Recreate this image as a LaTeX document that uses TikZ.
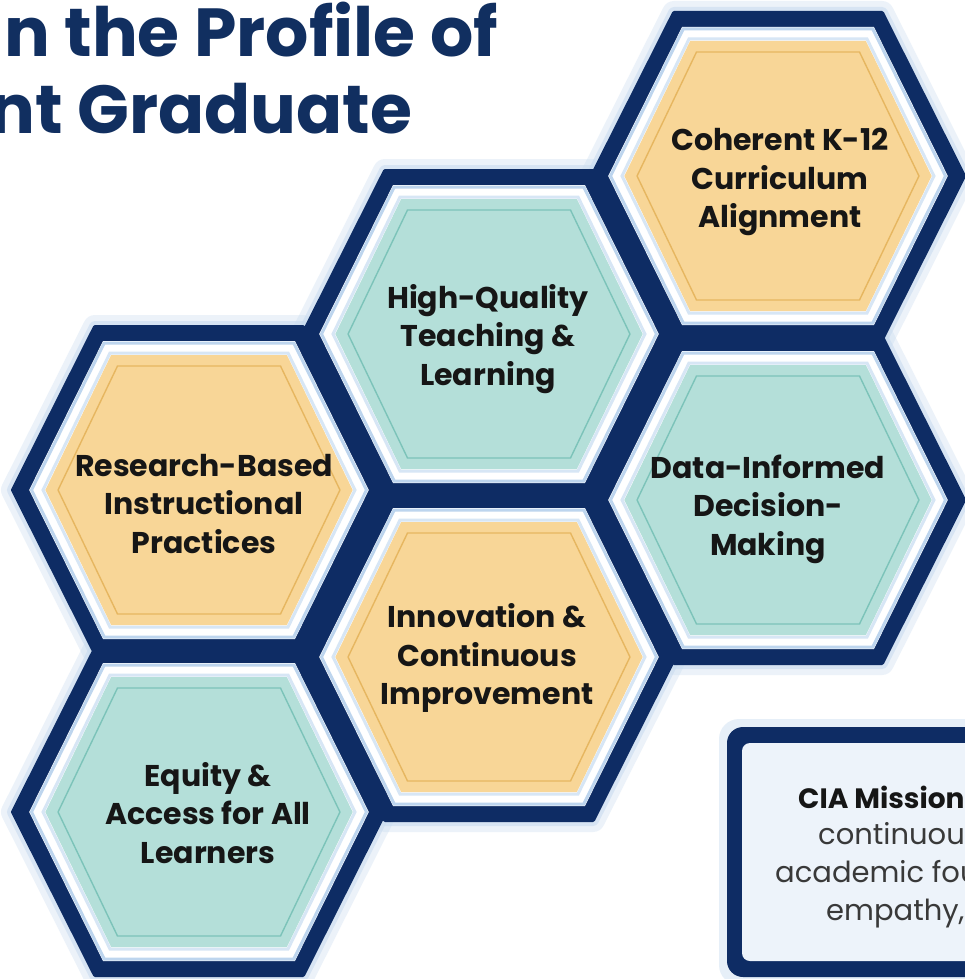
\documentclass[tikz,border=0pt]{standalone}
\usepackage{fontspec}
\setmainfont{Poppins}
\usetikzlibrary{positioning}

\definecolor{navy}{HTML}{0E2C64}
\definecolor{headblue}{HTML}{112F60}
\definecolor{halo}{HTML}{C9DCF0}
\definecolor{rim}{HTML}{BDD5EE}
\definecolor{peach}{HTML}{F8D697}
\definecolor{peachline}{HTML}{E6B660}
\definecolor{aqua}{HTML}{B4DFD9}
\definecolor{aqualine}{HTML}{7CC3B9}
\definecolor{ink}{HTML}{161616}
\definecolor{paper}{HTML}{EDF3FA}

% hexagon round (#1,#2), pulled in by #3
\newcommand{\hexpath}[3]{({#1+186-1.155*#3},{#2}) -- ({#1+104-0.577*#3},{#2-163+#3}) -- ({#1-104+0.577*#3},{#2-163+#3}) -- ({#1-186+1.155*#3},{#2}) -- ({#1-104+0.577*#3},{#2+163-#3}) -- ({#1+104-0.577*#3},{#2+163-#3}) -- cycle}
\newcommand{\hexglow}[2]{%
  \draw[halo, line width=24pt, opacity=.35, line join=round] \hexpath{#1}{#2}{0};
  \draw[halo, line width=12pt, opacity=.6, line join=round] \hexpath{#1}{#2}{0};}
\newcommand{\hexcell}[4]{%
  \fill[white] \hexpath{#1}{#2}{14};
  \draw[rim, line width=3pt] \hexpath{#1}{#2}{16};
  \draw[rim!60, line width=3pt] \hexpath{#1}{#2}{26};
  \fill[#3] \hexpath{#1}{#2}{28};
  \draw[#4, line width=1.4pt] \hexpath{#1}{#2}{39};}

\begin{document}
\begin{tikzpicture}[x=1pt, y=-1pt,
hexlabel/.style = {align = center, text = ink, inner sep = 0pt,
  font = \bfseries\fontsize{30}{38.5}\selectfont},
headline/.style = {text = headblue, inner sep = 0pt,
  font = \bfseries\fontsize{68}{70}\selectfont},
missline/.style = {anchor = base west, text = ink!85, inner sep = 0pt,
  font = \fontsize{29}{30}\selectfont}]

\useasboundingbox (0,0) rectangle (965,979);
\clip (0,0) rectangle (965,979);
\fill[white] (0,0) rectangle (965,979);

% heading, cut at the left edge
\node[headline, anchor = base east] (head1) at (498,57) {n the Profile of};
\node[headline, anchor = base west] (head2) at (-54,133) {ont Graduate};

% halo and dark frames
\hexglow{199}{490} \hexglow{199}{812}
\hexglow{489}{334} \hexglow{489}{657}
\hexglow{778}{176} \hexglow{778}{500}
\foreach \cx/\cy in {199/490, 199/812, 489/334, 489/657, 778/176, 778/500}
  \filldraw[navy, line width=4pt, line join=round] \hexpath{\cx}{\cy}{0};

% cells
\hexcell{199}{490}{peach}{peachline}
\hexcell{199}{812}{aqua}{aqualine}
\hexcell{489}{334}{aqua}{aqualine}
\hexcell{489}{657}{peach}{peachline}
\hexcell{778}{176}{peach}{peachline}
\hexcell{778}{500}{aqua}{aqualine}

\node[hexlabel] (coh) at (780,182) {Coherent K-12\\Curriculum\\Alignment};
\node[hexlabel] (hq) at (488,339) {High-Quality\\Teaching \&\\Learning};
\node[hexlabel] (res) at (204,504) {Research-Based\\Instructional\\Practices};
\node[hexlabel] (dat) at (768,509) {Data-Informed\\Decision-\\Making};
\node[hexlabel] (inn) at (487,658) {Innovation \&\\Continuous\\Improvement};
\node[hexlabel] (equ) at (208,813) {Equity \&\\Access for All\\Learners};

% mission box, cut at the right edge
\fill[halo, opacity=.45, rounded corners=20pt] (719,719) rectangle (1020,985);
\fill[navy, rounded corners=16pt] (727,727) rectangle (1010,977);
\fill[paper, rounded corners=8pt] (742,743) rectangle (1000,961);
\node[missline, text = ink, font = \bfseries\fontsize{28}{30}\selectfont] (mis1) at (798,808) {CIA Mission};
\node[missline] (mis2) at (818,844) {continuou};
\node[missline] (mis3) at (775,882) {academic fou};
\node[missline] (mis4) at (826,920) {empathy,};

\end{tikzpicture}
\end{document}
